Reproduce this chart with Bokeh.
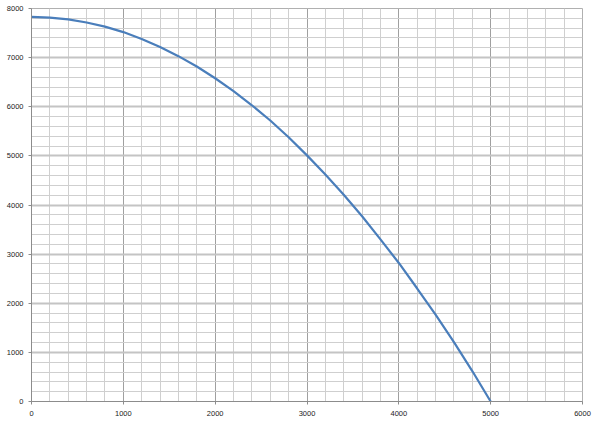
from bokeh.plotting import figure
from bokeh.models import SingleIntervalTicker, Range1d
from bokeh.embed import file_html
from bokeh.resources import INLINE

x_vals = [0, 200, 400, 600, 800, 1000, 1200, 1400, 1600, 1800, 2000, 2200, 2400,
          2600, 2800, 3000, 3200, 3400, 3600, 3800, 4000, 4200, 4400, 4600, 4800, 5000]
y_vals = [7830, 7815, 7780, 7715, 7630, 7520, 7380, 7215, 7030, 6820, 6580, 6320, 6030,
          5720, 5380, 5010, 4620, 4210, 3770, 3300, 2820, 2300, 1770, 1210, 620, 0]

p = figure(width=597, height=427, output_backend="svg", toolbar_location=None,
           x_range=Range1d(0, 6000), y_range=Range1d(0, 8000),
           min_border_left=31, min_border_right=15, min_border_top=8,
           min_border_bottom=26)
p.styles = {"outline": "1px solid #c0c0c0", "outline-offset": "-2px",
            "border-radius": "4px"}

p.background_fill_color = "white"
p.border_fill_color = "white"
p.outline_line_color = "#b0b0b0"
p.outline_line_width = 1

for ax in (p.xaxis, p.yaxis):
    ax.ticker = SingleIntervalTicker(interval=1000, num_minor_ticks=5)
    ax.axis_line_color = "#8c8c8c"
    ax.major_tick_line_color = "#8c8c8c"
    ax.major_tick_out = 3
    ax.major_tick_in = 0
    ax.minor_tick_line_color = None
    ax.major_label_text_font = "Liberation Sans"
    ax.major_label_text_font_size = "7.5px"
    ax.major_label_text_color = "#222222"

p.xaxis.major_label_standoff = 5
p.yaxis.major_label_standoff = 4

p.xgrid.ticker = SingleIntervalTicker(interval=1000, num_minor_ticks=5)
p.ygrid.ticker = SingleIntervalTicker(interval=1000, num_minor_ticks=5)
p.xgrid.grid_line_color = "#a0a0a0"
p.xgrid.grid_line_width = 1
p.ygrid.grid_line_color = "#c4c4c4"
p.ygrid.grid_line_width = 2
p.xgrid.minor_grid_line_color = "#cfcfcf"
p.ygrid.minor_grid_line_color = "#cfcfcf"
p.xgrid.minor_grid_line_width = 1
p.ygrid.minor_grid_line_width = 1

p.line(x_vals, y_vals, line_color="#4a7ebb", line_width=2.2)

open("out.html", "w").write(file_html(p, INLINE))
